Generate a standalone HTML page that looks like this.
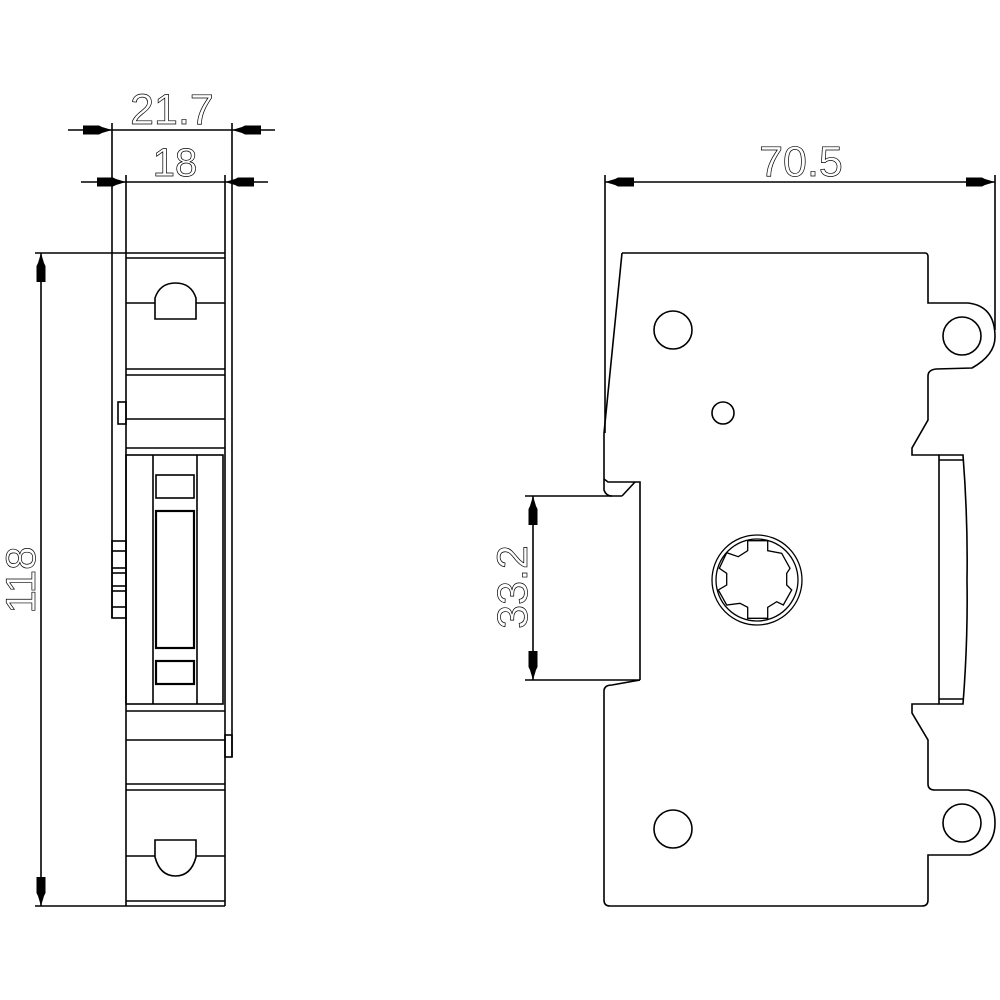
<!DOCTYPE html>
<html><head><meta charset="utf-8"><style>
html,body{margin:0;padding:0;background:#fff}
svg{display:block}
text{font-family:"Liberation Sans",sans-serif;fill:none;stroke:#000;stroke-width:0.7}
</style></head><body>
<svg width="1000" height="1000" viewBox="0 0 1000 1000" xmlns="http://www.w3.org/2000/svg">
<defs>
<polygon id="ar" points="0,0 10,-3 13,-4.5 29,-4.5 29,4.5 13,4.5 10,3" fill="#000"/>
</defs>
<g stroke="#000" stroke-width="1.6" fill="none">
<line x1="68" y1="130" x2="275" y2="130"/>
<line x1="81" y1="182" x2="268" y2="182"/>
<line x1="112" y1="123" x2="112" y2="618"/>
<line x1="232" y1="123" x2="232" y2="757"/>
<line x1="126" y1="175" x2="126" y2="906"/>
<line x1="225" y1="175" x2="225" y2="906"/>
<line x1="35" y1="253" x2="225" y2="253"/>
<line x1="35" y1="906" x2="225" y2="906"/>
<line x1="41" y1="253" x2="41" y2="906"/>
<line x1="126" y1="258" x2="225" y2="258"/>
<line x1="126" y1="303" x2="155" y2="303"/>
<line x1="196" y1="303" x2="225" y2="303"/>
<path d="M155,319 V298 Q160,283 175.5,283 Q191,283 196,298 V319 Z"/>
<line x1="126" y1="369" x2="225" y2="369"/>
<line x1="126" y1="375" x2="225" y2="375"/>
<line x1="126" y1="419" x2="225" y2="419"/>
<line x1="126" y1="448" x2="225" y2="448"/>
<rect x="118" y="402" width="8" height="22"/>
<rect x="126" y="455" width="97" height="249"/>
<line x1="153" y1="455" x2="153" y2="704"/>
<line x1="197" y1="455" x2="197" y2="704"/>
<rect x="156" y="475" width="38" height="23"/>
<rect x="156" y="511" width="38" height="137" stroke-width="2.2"/>
<rect x="156" y="661" width="38" height="23" stroke-width="2.2"/>
<line x1="126" y1="711" x2="225" y2="711"/>
<line x1="126" y1="740" x2="225" y2="740"/>
<line x1="126" y1="784" x2="225" y2="784"/>
<line x1="126" y1="790" x2="225" y2="790"/>
<line x1="126" y1="856" x2="155" y2="856"/>
<line x1="196" y1="856" x2="225" y2="856"/>
<path d="M155,840 H196 V857 Q191,876 175.5,876 Q160,876 155,857 Z"/>
<line x1="126" y1="901" x2="225" y2="901"/>
<rect x="112" y="541" width="14" height="77"/>
<line x1="112" y1="551" x2="126" y2="551"/>
<line x1="112" y1="568" x2="126" y2="568"/>
<line x1="112" y1="573" x2="126" y2="573"/>
<line x1="112" y1="586" x2="126" y2="586"/>
<line x1="112" y1="591" x2="126" y2="591"/>
<line x1="112" y1="607" x2="126" y2="607"/>
<rect x="225" y="735" width="7" height="22"/>

<line x1="605" y1="182" x2="995" y2="182"/>
<line x1="605" y1="175" x2="605" y2="433"/>
<line x1="995" y1="175" x2="995" y2="330"/>
<path d="M622,253 H925 Q928,253 928,257 V303 H968 Q995,306 995,337 Q995,355 972,368 L936,369 Q928,370 928,376 V420 L912,448 V455 H939"/>
<path d="M939,455 H963 Q968,520 967,580 Q968,640 963,704 H939 Z"/>
<line x1="939" y1="460" x2="963" y2="460"/>
<line x1="939" y1="699" x2="963" y2="699"/>
<path d="M939,704 H912 V713 L928,740 V784 Q928,790 935,790 H968 Q995,795 995,823 Q995,848 970,855 H928 V900 Q928,906 922,906 H610 Q604,906 604,900 V690 Q605,685 612,685 L640,680"/>
<path d="M622,253 L604,433 V479 L608,482 H640 V680"/>
<path d="M604,479 V490 Q606,496 612,496"/>
<line x1="635" y1="482" x2="622" y2="496"/>
<line x1="525" y1="496" x2="622" y2="496"/>
<line x1="525" y1="680" x2="640" y2="680"/>
<line x1="533" y1="496" x2="533" y2="680"/>
<circle cx="673" cy="330" r="19"/>
<circle cx="962" cy="336" r="19"/>
<circle cx="723" cy="413" r="11"/>
<circle cx="673" cy="829" r="19"/>
<circle cx="962" cy="823" r="19"/>
<circle cx="757" cy="580" r="45" stroke-width="1.3"/>
<circle cx="757" cy="580" r="41" stroke-width="1.3"/>
<polygon stroke-width="1.3" points="747.7,540.7 767.7,540.7 767.7,550.7 781.7,553.3 790,568.3 786.7,573.3 786.7,585 791.7,590 783.3,605 776.7,601.7 767.7,607.3 767.7,618.3 747.7,618.3 747.7,607.3 740,603.3 726.7,605 718.3,590 726.7,585 726.7,573.3 719.3,568.3 726.7,552.7 738.3,556.7 747.7,550.7"/>
</g>
<use href="#ar" transform="translate(112,130) rotate(180)"/>
<use href="#ar" transform="translate(232,130)"/>
<use href="#ar" transform="translate(126,182) rotate(180)"/>
<use href="#ar" transform="translate(225,182)"/>
<use href="#ar" transform="translate(41,253) rotate(90)"/>
<use href="#ar" transform="translate(41,906) rotate(-90)"/>
<use href="#ar" transform="translate(605,182)"/>
<use href="#ar" transform="translate(995,182) rotate(180)"/>
<use href="#ar" transform="translate(533,496) rotate(90)"/>
<use href="#ar" transform="translate(533,680) rotate(-90)"/>
<text x="172" y="124" font-size="43" text-anchor="middle">21.7</text>
<text x="175" y="176" font-size="40" text-anchor="middle">18</text>
<text x="801" y="176" font-size="43" text-anchor="middle">70.5</text>
<text transform="translate(35,580) rotate(-90)" x="0" y="0" font-size="42" text-anchor="middle">118</text>
<text transform="translate(527,587) rotate(-90)" x="0" y="0" font-size="43" text-anchor="middle">33.2</text>
</svg>
</body></html>
